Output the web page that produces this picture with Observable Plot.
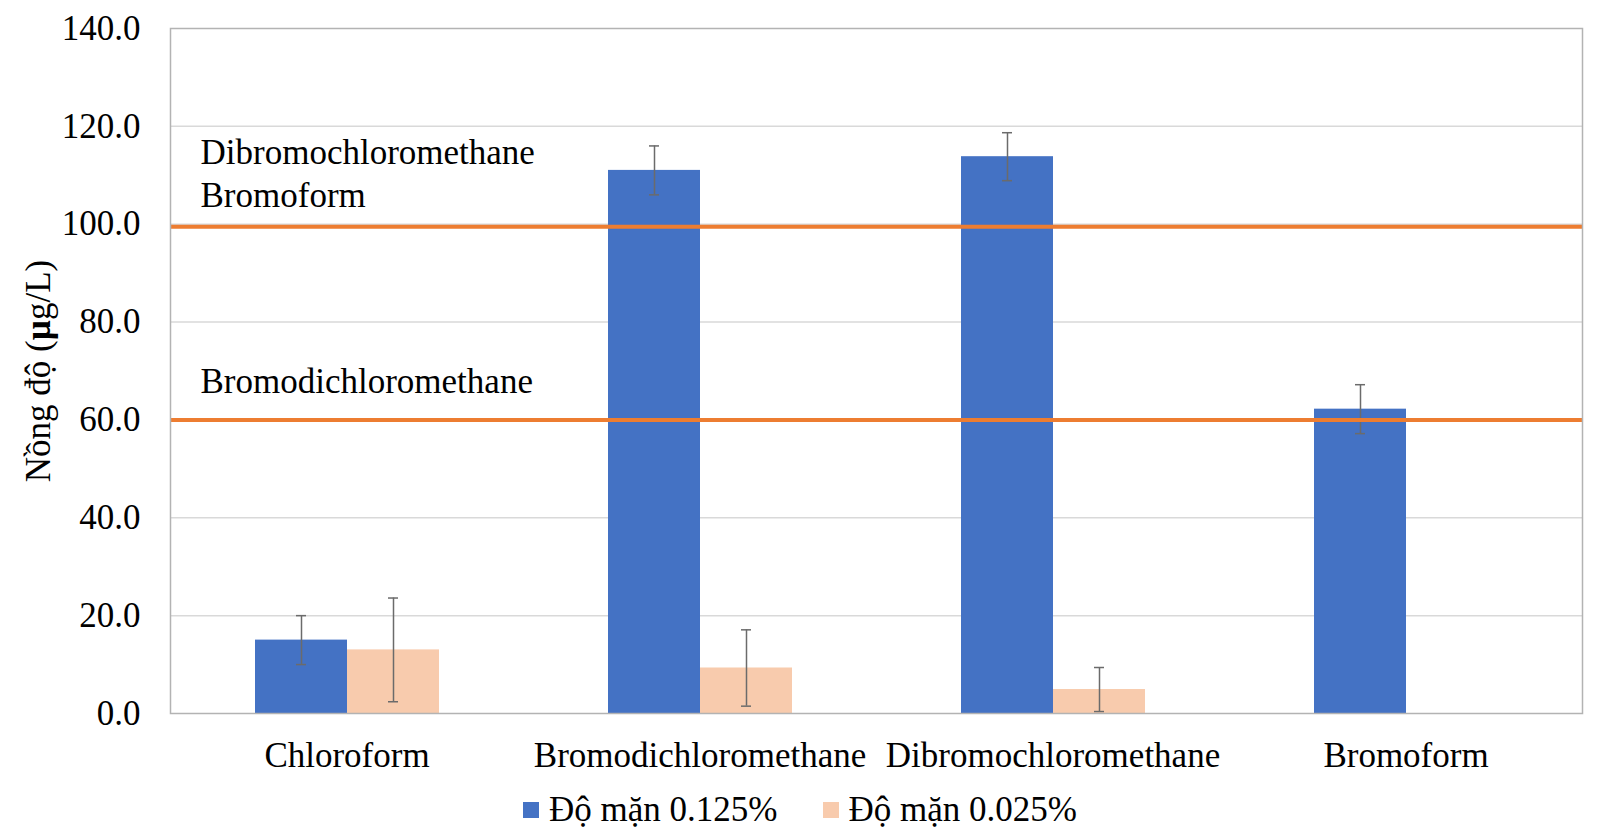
<!DOCTYPE html>
<html>
<head>
<meta charset="utf-8">
<script src="https://cdn.jsdelivr.net/npm/d3@7"></script>
<script src="https://cdn.jsdelivr.net/npm/@observablehq/plot@0.6"></script>
<style>
  html, body { margin: 0; padding: 0; background: #fff; }
  body { width: 1600px; font-family: "Liberation Serif", "Times New Roman", serif; color: #000; }
  #legend { display: flex; justify-content: center; align-items: center; margin-top: 15px; font-size: 35px; line-height: 40px; }
  .item { display: flex; align-items: center; }
  .item + .item { margin-left: 45px; }
  .sw { width: 16px; height: 16px; margin-right: 10px; }
</style>
</head>
<body>
<div id="chart"></div>
<div id="legend"></div>
<script>
const categories = ["Chloroform", "Bromodichloromethane", "Dibromochloromethane", "Bromoform"];
const series = ["Độ mặn 0.125%", "Độ mặn 0.025%"];
const colors = ["#4472C4", "#F8CBAD"];
const values125 = [15.0, 111.0, 113.8, 62.2];
const errors125 = [5.0, 5.0, 4.9, 5.0];
const values025 = [13.0, 9.3, 4.9, 0];
const errors025 = [10.6, 7.8, 4.5, 0];
const thresholds = [99.5, 60];
const thresholdLabels = ["Dibromochloromethane\nBromoform", "Bromodichloromethane"];
const thresholdDy = [-20, -27];
const yTicks = [0, 20, 40, 60, 80, 100, 120, 140];
const yTitle = "Nồng độ (µg/L)";

const data = [];
categories.forEach((c, i) => {
  data.push({category: c, series: series[0], value: values125[i], err: errors125[i]});
  data.push({category: c, series: series[1], value: values025[i], err: errors025[i]});
});
const errData = data.filter(d => d.err > 0);
const thr = thresholds.map((v, i) => ({value: v, label: thresholdLabels[i], dy: thresholdDy[i]}));

const plot = Plot.plot({
  width: 1600,
  height: 775,
  marginLeft: 170,
  marginRight: 18,
  marginTop: 28,
  marginBottom: 62,
  style: {fontFamily: "Liberation Serif, Times New Roman, serif", fontSize: "35px", color: "#000", background: "#fff"},
  fx: {domain: categories, padding: 0, label: null, axis: "bottom", tickSize: 0, tickPadding: 29},
  x: {domain: series, paddingInner: 0, paddingOuter: 0.918, axis: null},
  y: {domain: [0, 140], ticks: yTicks, tickFormat: d => d.toFixed(1), tickSize: 0, tickPadding: 30, label: null},
  color: {domain: series, range: colors},
  marks: [
    Plot.ruleY(yTicks.filter(t => t > 0 && t < 140), {stroke: "#d9d9d9", strokeWidth: 1.5}),
    Plot.barY(data, {fx: "category", x: "series", y: "value", fill: "series"}),
    Plot.ruleX(errData, {fx: "category", x: "series", y1: d => d.value - d.err, y2: d => d.value + d.err, stroke: "#6b6b6b", strokeWidth: 1.5}),
    Plot.tickY(errData, {fx: "category", x: "series", y: d => d.value + d.err, stroke: "#6b6b6b", strokeWidth: 1.5, insetLeft: 41, insetRight: 41}),
    Plot.tickY(errData, {fx: "category", x: "series", y: d => d.value - d.err, stroke: "#6b6b6b", strokeWidth: 1.5, insetLeft: 41, insetRight: 41}),
    Plot.ruleY(thr, {y: "value", stroke: "#ED7D31", strokeWidth: 4}),
    Plot.text(thr.slice(0, 1), {fx: () => categories[0], y: "value", text: "label", frameAnchor: "left", textAnchor: "start", lineAnchor: "bottom", dx: 30, dy: thresholdDy[0], fontSize: 35, lineHeight: 1.23, fill: "#000"}),
    Plot.text(thr.slice(1), {fx: () => categories[0], y: "value", text: "label", frameAnchor: "left", textAnchor: "start", lineAnchor: "bottom", dx: 30, dy: thresholdDy[1], fontSize: 35, fill: "#000"}),
    Plot.text([yTitle], {text: d => d, frameAnchor: "left", rotate: -90, textAnchor: "middle", lineAnchor: "middle", dx: -132, fontSize: 35, fill: "#000", facet: "super"}),
    Plot.frame({stroke: "#b3b3b3", strokeWidth: 1.5, facet: "super"})
  ]
});
document.getElementById("chart").appendChild(plot);

// bold µ in y title
plot.querySelectorAll("text").forEach(t => {
  if (t.textContent === yTitle) {
    const i = yTitle.indexOf("µ");
    t.textContent = "";
    const ns = "http://www.w3.org/2000/svg";
    const a = document.createElementNS(ns, "tspan"); a.textContent = yTitle.slice(0, i);
    const b = document.createElementNS(ns, "tspan"); b.textContent = "µ"; b.setAttribute("font-weight", "bold");
    const c = document.createElementNS(ns, "tspan"); c.textContent = yTitle.slice(i + 1);
    t.append(a, b, c);
  }
});

const legend = document.getElementById("legend");
series.forEach((s, i) => {
  const item = document.createElement("div");
  item.className = "item";
  const sw = document.createElement("div");
  sw.className = "sw";
  sw.style.background = colors[i];
  const lab = document.createElement("span");
  lab.textContent = s;
  item.append(sw, lab);
  legend.appendChild(item);
});
</script>
</body>
</html>
